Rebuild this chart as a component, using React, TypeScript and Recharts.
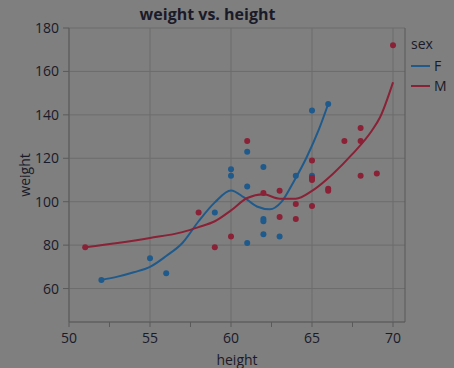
import React from 'react';
import { ComposedChart, Scatter, Line, XAxis, YAxis, CartesianGrid, ReferenceLine } from 'recharts';

const femaleHeight = [52, 55, 56, 59, 60, 60, 61, 61, 61, 62, 62, 62, 62, 63, 64, 65, 65, 66];
const femaleWeight = [64, 74, 67, 95, 115, 112, 123, 107, 81, 116, 92, 91, 85, 84, 112, 112, 142, 145];
const maleHeight = [51, 58, 59, 60, 61, 62, 63, 63, 64, 64, 65, 65, 65, 65, 66, 66, 67, 68, 68, 68, 69, 70];
const maleWeight = [79, 95, 79, 84, 128, 104, 105, 93, 99, 92, 119, 111, 110, 98, 106, 105, 128, 134, 128, 112, 113, 172];

const femaleFitHeight = [52, 53, 54, 55, 56, 57, 58, 59, 60, 60.8, 61.6, 62.4, 63.1, 63.85, 64.67, 65.4, 66];
const femaleFitWeight = [64, 65.5, 67.5, 70, 75, 81, 91, 99.7, 105.2, 102, 97.8, 96.5, 99.8, 109, 120.5, 132.8, 145];
const maleFitHeight = [51, 53, 55, 57, 58, 59, 60, 61, 62, 63, 64, 65, 66.3, 67.5, 68.7, 69.2, 70];
const maleFitWeight = [79, 81, 83.3, 86, 88.3, 91, 96, 101.7, 103.4, 101.4, 101.4, 105, 112.9, 122, 132.8, 138.9, 155];

const xTicks = [50, 52.5, 55, 57.5, 60, 62.5, 65, 67.5, 70];
const xMajor = [50, 55, 60, 65, 70];
const yTicks = [60, 80, 100, 120, 140, 160, 180];
const xDomain = [50, 70.74];
const yDomain = [44.6, 180];

const sexes = ['F', 'M'];
const colors = ['#1f5a8c', '#8a2136'];

const zip = (xs: number[], ys: number[]) => xs.map((x, i) => ({ x, y: ys[i] }));

const femalePts = zip(femaleHeight, femaleWeight);
const malePts = zip(maleHeight, maleWeight);
const femaleFit = zip(femaleFitHeight, femaleFitWeight);
const maleFit = zip(maleFitHeight, maleFitWeight);

const FONT = '"Open Sans", "Noto Sans", sans-serif';
const TEXT = '#1a1a28';
const BG = '#7f7f7f';
const GRID = '#6d6d6d';
const AXIS = '#5a5a5a';

const Dot = (color: string) => (props: any) => {
  const { cx, cy } = props;
  return <circle cx={cx} cy={cy} r={3} fill={color} stroke="none" />;
};

const LegendBox = () => (
  <div
    style={{
      position: 'absolute',
      left: 411,
      top: 34,
      fontFamily: FONT,
      fontSize: 14,
      color: TEXT,
      lineHeight: '20px',
    }}
  >
    <div style={{ marginBottom: 2 }}>sex</div>
    {sexes.map((s, i) => (
      <div key={s} style={{ display: 'flex', alignItems: 'center' }}>
        <div style={{ width: 19, height: 2, background: colors[i], marginRight: 4 }} />
        <span>{s}</span>
      </div>
    ))}
  </div>
);

export default function App() {
  return (
    <div style={{ position: 'absolute', left: 0, top: 0, width: 454, height: 368, background: BG, overflow: 'hidden' }}>
      <div
        style={{
          position: 'absolute',
          left: 0,
          top: 3,
          width: 415,
          textAlign: 'center',
          fontFamily: FONT,
          fontWeight: 'bold',
          fontSize: 16,
          color: TEXT,
          lineHeight: '22px',
        }}
      >
        weight vs. height
      </div>
      <ComposedChart width={454} height={368} margin={{ top: 28, right: 49, bottom: 16, left: 0 }}>
        <CartesianGrid vertical={false} stroke={GRID} strokeWidth={1} />
        {xMajor.map((v) => (
          <ReferenceLine key={v} x={v} stroke={GRID} strokeWidth={1} />
        ))}
        <ReferenceLine x={xDomain[1]} stroke={AXIS} strokeWidth={1} />
        <XAxis
          type="number"
          dataKey="x"
          domain={xDomain}
          allowDataOverflow
          ticks={xTicks}
          interval={0}
          tickFormatter={(v: number) => (xMajor.includes(v) ? String(v) : '')}
          tickSize={5}
          tickMargin={6}
          stroke={AXIS}
          tick={{ fill: TEXT, fontSize: 14, fontFamily: FONT }}
          height={30}
          label={{
            content: (p: any) => {
              const vb = p.viewBox;
              return (
                <text x={vb.x + vb.width / 2} y={vb.y + 37} textAnchor="middle" dominantBaseline="central" fill={TEXT} fontSize={14} fontFamily={FONT}>
                  height
                </text>
              );
            },
          }}
        />
        <YAxis
          type="number"
          dataKey="y"
          domain={yDomain}
          allowDataOverflow
          ticks={yTicks}
          interval={0}
          tickSize={6}
          tickMargin={4}
          stroke={AXIS}
          tick={{ fill: TEXT, fontSize: 14, fontFamily: FONT }}
          width={69}
          label={{
            content: (p: any) => {
              const vb = p.viewBox;
              const cx = vb.x + 24;
              const cy = vb.y + vb.height / 2;
              return (
                <text x={cx} y={cy} transform={`rotate(-90 ${cx} ${cy})`} textAnchor="middle" dominantBaseline="central" fill={TEXT} fontSize={14} fontFamily={FONT}>
                  weight
                </text>
              );
            },
          }}
        />
        <Line data={femaleFit} dataKey="y" type="monotone" stroke={colors[0]} strokeWidth={2} dot={false} isAnimationActive={false} legendType="none" />
        <Line data={maleFit} dataKey="y" type="monotone" stroke={colors[1]} strokeWidth={2} dot={false} isAnimationActive={false} legendType="none" />
        <Scatter data={femalePts} dataKey="y" name="F" fill={colors[0]} shape={Dot(colors[0])} isAnimationActive={false} />
        <Scatter data={malePts} dataKey="y" name="M" fill={colors[1]} shape={Dot(colors[1])} isAnimationActive={false} />
      </ComposedChart>
      <LegendBox />
    </div>
  );
}
